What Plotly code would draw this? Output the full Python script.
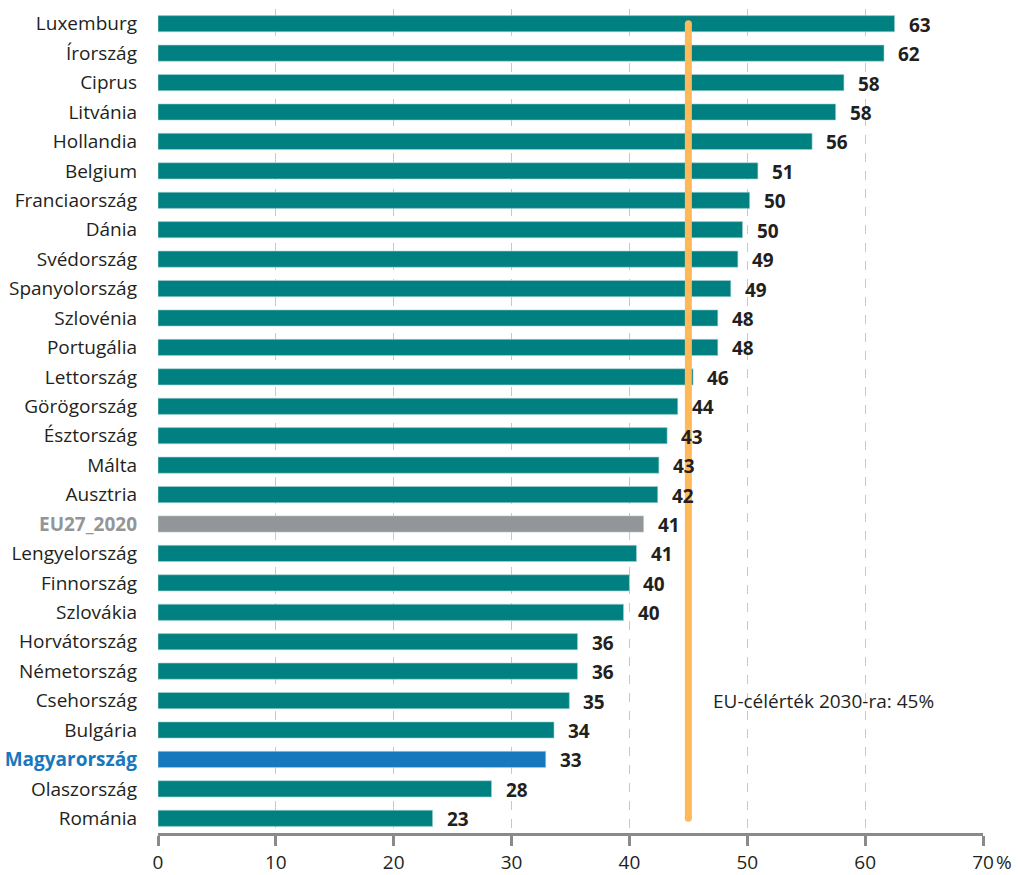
import plotly.graph_objects as go

countries = ["Luxemburg", "Írország", "Ciprus", "Litvánia", "Hollandia", "Belgium",
             "Franciaország", "Dánia", "Svédország", "Spanyolország", "Szlovénia",
             "Portugália", "Lettország", "Görögország", "Észtország", "Málta", "Ausztria",
             "EU27_2020", "Lengyelország", "Finnország", "Szlovákia", "Horvátország",
             "Németország", "Csehország", "Bulgária", "Magyarország", "Olaszország", "Románia"]
values = [62.5, 61.6, 58.2, 57.5, 55.5, 50.9, 50.2, 49.6, 49.2, 48.6, 47.5, 47.5, 45.4,
          44.1, 43.2, 42.5, 42.4, 41.2, 40.6, 40.0, 39.5, 35.6, 35.6, 34.9, 33.6, 32.9,
          28.3, 23.3]
labels = [63, 62, 58, 58, 56, 51, 50, 50, 49, 49, 48, 48, 46, 44, 43, 43, 42, 41, 41, 40,
          40, 36, 36, 35, 34, 33, 28, 23]
target = 45
target_text = "EU-célérték 2030-ra: 45%"
xticks = [0, 10, 20, 30, 40, 50, 60, 70]
xticktext = ["0", "10", "20", "30", "40", "50", "60", "70"]
unit_text = "%"

TEAL = "#008080"
GRAY = "#939598"
BLUE = "#1878be"
DARK = "#231f20"
FONT = "Open Sans, Noto Sans, sans-serif"

colors = []
ticktext = []
for c in countries:
    if c == "EU27_2020":
        colors.append(GRAY)
        ticktext.append(f"<span style='color:{GRAY}'><b>{c}</b></span>")
    elif c == "Magyarország":
        colors.append(BLUE)
        ticktext.append(f"<span style='color:{BLUE}'><b>{c}</b></span>")
    else:
        colors.append(TEAL)
        ticktext.append(c)

fig = go.Figure()
fig.add_trace(go.Bar(
    x=values, y=countries, orientation="h",
    marker=dict(color=colors, line=dict(color="#a8d4d4", width=0.6)),
    width=0.55, hoverinfo="x+y",
))

fig.add_trace(go.Scatter(
    x=[target, target], y=[countries[0], countries[-1]],
    mode="lines+markers",
    line=dict(color="#fdb95a", width=7),
    marker=dict(color="#fdb95a", size=7),
    hoverinfo="skip",
))

for c, v, l in zip(countries, values, labels):
    fig.add_annotation(x=v, y=c, text=f"<b>{l}</b>", showarrow=False,
                       xanchor="left", xshift=12, yshift=-1,
                       font=dict(size=19, color=DARK, family=FONT))

fig.add_annotation(x=46.9, y="Csehország", text=target_text, showarrow=False,
                   xanchor="left", yshift=0, font=dict(size=19, color=DARK, family=FONT))

fig.add_annotation(x=xticks[-1], xref="x", y=0, yref="paper", text=unit_text,
                   showarrow=False, xanchor="left", yanchor="middle",
                   xshift=11, yshift=-29, font=dict(size=19, color=DARK, family=FONT))

fig.update_layout(
    width=1018, height=875,
    margin=dict(l=158, r=35, t=9, b=42),
    plot_bgcolor="white", paper_bgcolor="white",
    showlegend=False, bargap=0.45,
    font=dict(family=FONT, size=19, color=DARK),
)
fig.update_xaxes(
    range=[0, 70], tickvals=xticks, ticktext=xticktext, automargin=False,
    showgrid=True, gridcolor="#c8c8c8", griddash="dash", gridwidth=1,
    zeroline=False, showline=True, linecolor="#8a8a8a", linewidth=2.5,
    ticks="outside", ticklen=10, tickwidth=2.5, tickcolor="#8a8a8a",
    tickfont=dict(size=19, color=DARK),
)
fig.update_yaxes(
    categoryorder="array", categoryarray=countries[::-1],
    tickvals=countries, ticktext=ticktext, automargin=False,
    range=[-0.5, len(countries) - 0.5],
    showgrid=False, zeroline=False, ticks="", ticklabelstandoff=20,
    tickfont=dict(size=19, color=DARK),
)

fig.write_html("out.html", config={"displayModeBar": False},
               post_script="document.body.style.margin='0px';")
